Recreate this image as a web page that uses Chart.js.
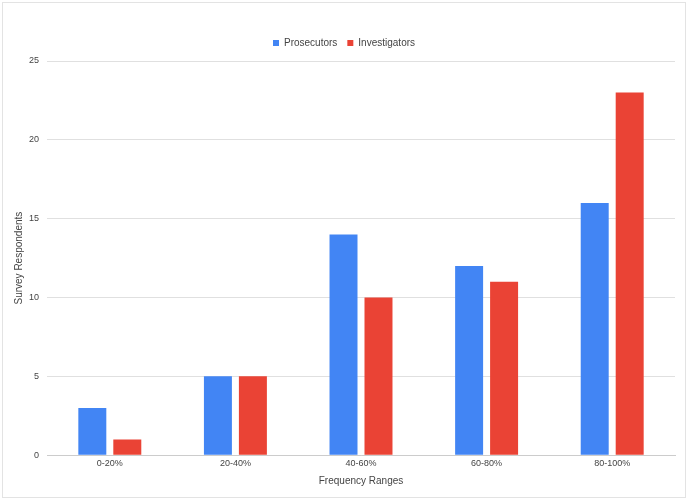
<!DOCTYPE html>
<html>
<head>
<meta charset="utf-8">
<script src="https://cdn.jsdelivr.net/npm/chart.js@4"></script>
<style>
  body { margin: 0; background: #fff; }
  #wrap { position: absolute; left: 2px; top: 2px; width: 682px; height: 494px; border: 1px solid #e3e3e3; }
  canvas { display: block; }
</style>
</head>
<body>
<div id="wrap"><canvas id="chart" width="682" height="494"></canvas></div>
<script>
// frequency ranges and respondent counts
const categories = ['0-20%', '20-40%', '40-60%', '60-80%', '80-100%'];
const prosecutors = [3, 5, 14, 12, 16];
const investigators = [1, 5, 10, 11, 23];
const yTicks = [0, 5, 10, 15, 20, 25];

const textColor = '#444';
const gridColor = '#e0e0e0';
const fontFamily = 'Arial, "Liberation Sans", sans-serif';

// a little extra room under the legend
const legendGap = {
  id: 'legendGap',
  beforeInit(chart) {
    const origFit = chart.legend.fit;
    chart.legend.fit = function () {
      origFit.call(this);
      this.height += 3;
    };
  }
};

new Chart(document.getElementById('chart'), {
  type: 'bar',
  data: {
    labels: categories,
    datasets: [
      {
        label: 'Prosecutors',
        data: prosecutors,
        backgroundColor: '#4285f4',
        categoryPercentage: 0.557,
        barPercentage: 0.8
      },
      {
        label: 'Investigators',
        data: investigators,
        backgroundColor: '#ea4335',
        categoryPercentage: 0.557,
        barPercentage: 0.8
      }
    ]
  },
  options: {
    responsive: false,
    animation: false,
    layout: { padding: { left: 10, right: 10, top: 25, bottom: 6 } },
    plugins: {
      legend: {
        position: 'top',
        labels: {
          color: textColor,
          boxWidth: 6,
          boxHeight: 6,
          padding: 10,
          font: { family: fontFamily, size: 10 }
        }
      },
      tooltip: { enabled: false }
    },
    scales: {
      x: {
        grid: { display: false, drawTicks: false },
        border: { color: '#ccc' },
        ticks: { color: textColor, font: { family: fontFamily, size: 9 }, padding: 3 },
        title: {
          display: true,
          text: 'Frequency Ranges',
          color: textColor,
          font: { family: fontFamily, size: 10 },
          padding: { top: 3 }
        }
      },
      y: {
        min: 0,
        max: 25,
        afterBuildTicks: axis => { axis.ticks = yTicks.map(v => ({ value: v })); },
        grid: { color: gridColor, drawTicks: false },
        border: { display: false },
        ticks: { color: textColor, font: { family: fontFamily, size: 9 }, padding: 8 },
        title: {
          display: true,
          text: 'Survey Respondents',
          color: textColor,
          font: { family: fontFamily, size: 10 },
          padding: { top: 0, bottom: -4 }
        }
      }
    }
  },
  plugins: [legendGap]
});
</script>
</body>
</html>
